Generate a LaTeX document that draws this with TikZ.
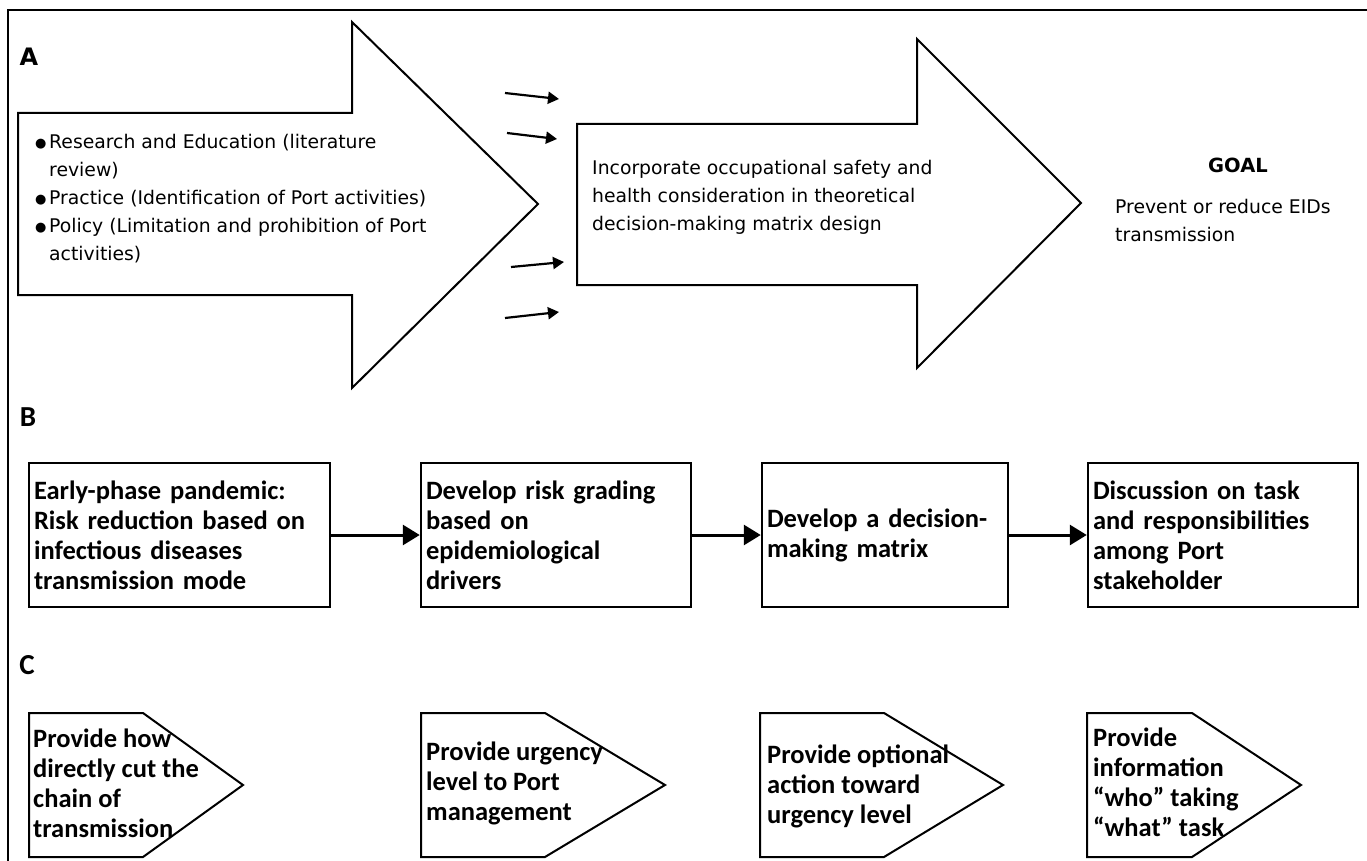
\documentclass[tikz,border=0pt]{standalone}
\usepackage{fontspec}
\setmainfont{DejaVu Sans}
\newfontfamily\calfont{Carlito}
\usetikzlibrary{arrows.meta}
\newcommand\bul{\makebox[14pt][l]{\raisebox{1pt}{\fontsize{13}{12}\selectfont ●}}}
\tikzset{
  stepbox/.style={draw, line width=2.5pt, inner xsep=5pt, minimum height=144pt, align=left,
    font=\calfont\bfseries\fontsize{26.5}{30}\selectfont},
  tagtext/.style={anchor=west, align=left, inner sep=0pt,
    font=\calfont\bfseries\fontsize{26.5}{30}\selectfont},
  atext/.style={anchor=west, align=left, inner sep=0pt,
    font=\fontsize{18.8}{28}\selectfont},
  flow/.style={line width=3pt, -{Triangle[length=17pt,width=20pt]}},
  feed/.style={line width=2.2pt, -{Triangle[length=11pt,width=12pt]}},
  outline/.style={draw, line width=2pt},
}
\begin{document}
\begin{tikzpicture}[x=1pt,y=-1pt]
  \useasboundingbox (0,0) rectangle (1367,861);
  % frame
  \draw[line width=2pt] (8,861) -- (8,10) -- (1367,10);

  % part A
  \node (labA) [font=\bfseries\fontsize{24}{24}\selectfont] at (29,57) {A};
  \draw[outline] (18,113) -- (352,113) -- (352,22) -- (538,204) -- (352,388) -- (352,295) -- (18,295) -- cycle;
  \draw[outline] (577,124) -- (917,124) -- (917,39) -- (1081,203) -- (917,368) -- (917,285) -- (577,285) -- cycle;
  \node (inputs) [atext] at (35,199) {\bul Research and Education (literature\\
    \hspace*{14pt}review)\\
    \bul Practice (Identification of Port activities)\\
    \bul Policy (Limitation and prohibition of Port\\
    \hspace*{14pt}activities)};
  \node (design) [atext] at (592,197) {Incorporate occupational safety and\\
    health consideration in theoretical\\
    decision-making matrix design};
  \node (goal) [font=\bfseries\fontsize{19.5}{20}\selectfont] at (1238,165) {GOAL};
  \node (prevent) [atext] at (1115,220) {Prevent or reduce EIDs\\transmission};
  \coordinate (f1a) at (505,93);  \coordinate (f1b) at (559,99);
  \coordinate (f2a) at (507,133); \coordinate (f2b) at (557,139);
  \coordinate (f3a) at (511,267); \coordinate (f3b) at (564,262);
  \coordinate (f4a) at (505,318); \coordinate (f4b) at (559,312);
  \draw[feed] (f1a) -- (f1b);
  \draw[feed] (f2a) -- (f2b);
  \draw[feed] (f3a) -- (f3b);
  \draw[feed] (f4a) -- (f4b);

  % part B
  \node (labB) [font=\calfont\bfseries\fontsize{29}{29}\selectfont] at (28,417) {B};
  \node (early) [stepbox, text width=291pt] at (179.5,535) {Early-phase pandemic:\\Risk reduction based on\\infectious diseases\\transmission mode};
  \node (grading) [stepbox, text width=260pt] at (556,535) {Develop risk grading\\based on\\epidemiological\\drivers};
  \node (matrix) [stepbox, text width=236pt] at (885,535) {Develop a decision-\\making matrix};
  \node (duties) [stepbox, text width=260pt] at (1223,535) {Discussion on task\\and responsibilities\\among Port\\stakeholder};
  \draw[flow] (early) -- (grading);
  \draw[flow] (grading) -- (matrix);
  \draw[flow] (matrix) -- (duties);

  % part C
  \node (labC) [font=\calfont\bfseries\fontsize{29}{29}\selectfont] at (27,665) {C};
  \draw[outline] (29,713) -- (143,713) -- (243,785) -- (143,857) -- (29,857) -- cycle;
  \draw[outline] (421,713) -- (545,713) -- (665,785) -- (545,857) -- (421,857) -- cycle;
  \draw[outline] (760,713) -- (884,713) -- (1003,785) -- (884,857) -- (760,857) -- cycle;
  \draw[outline] (1087,713) -- (1192,713) -- (1301,785) -- (1192,857) -- (1087,857) -- cycle;
  \node (cut) [tagtext] at (33,783) {Provide how\\directly cut the\\chain of\\transmission};
  \node (urgency) [tagtext] at (426,783) {Provide urgency\\level to Port\\management};
  \node (option) [tagtext] at (767,786) {Provide optional\\action toward\\urgency level};
  \node (who) [tagtext] at (1093,782) {Provide\\information\\“who” taking\\“what” task};
\end{tikzpicture}
\end{document}
